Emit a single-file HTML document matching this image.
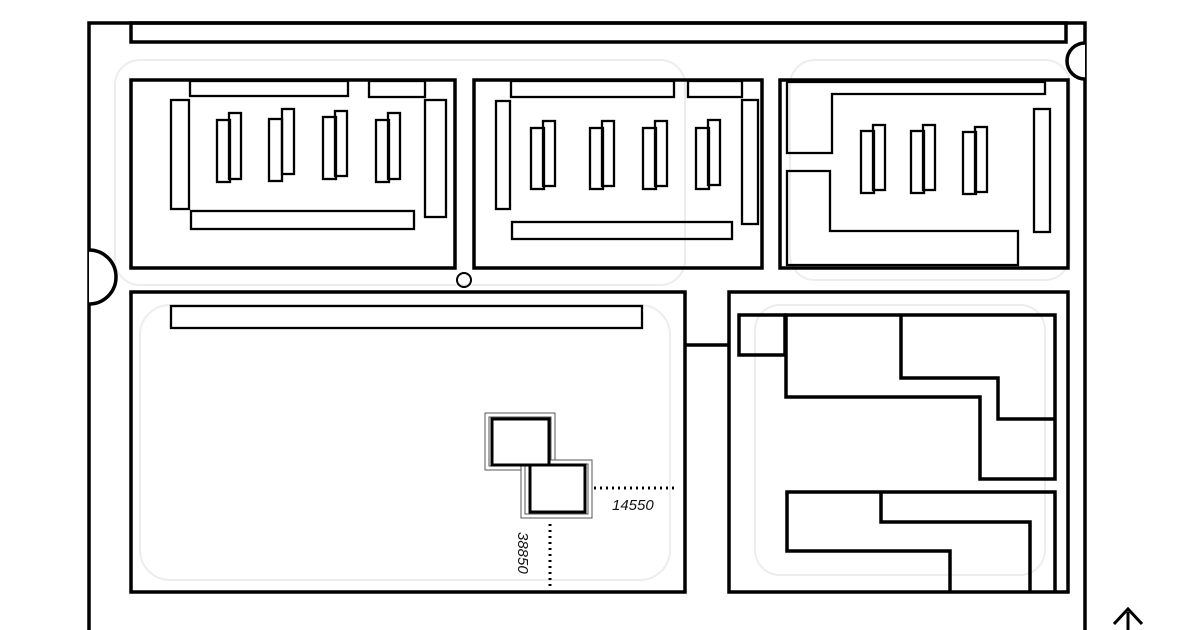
<!DOCTYPE html>
<html><head><style>html,body{margin:0;padding:0;background:#fff;}svg{display:block}</style></head>
<body>
<svg width="1200" height="630" viewBox="0 0 1200 630" xmlns="http://www.w3.org/2000/svg">
<g fill="none" stroke="#ededed" stroke-width="2">
<rect x="115" y="60" width="570" height="225" rx="25"/>
<rect x="140" y="305" width="530" height="275" rx="30"/>
<rect x="755" y="305" width="290" height="270" rx="25"/>
<rect x="790" y="60" width="280" height="220" rx="25"/>
</g>
<g fill="none" stroke="#000" stroke-width="3.5">
<path d="M89 630 V23 H1085 V630"/>
<rect x="131" y="23" width="935" height="19"/>
<path d="M89 250 A27 27 0 0 1 89 304" fill="#fff"/>
<path d="M1085 43 A18 18 0 0 0 1085 79" fill="#fff"/>
<rect x="131" y="80" width="324" height="188"/>
<rect x="474" y="80" width="288" height="188"/>
<rect x="780" y="80" width="288" height="188"/>
<rect x="131" y="292" width="554" height="300"/>
<rect x="729" y="292" width="339" height="300"/>
<line x1="685" y1="345" x2="729" y2="345"/>
</g>
<circle cx="464" cy="280" r="7" fill="none" stroke="#000" stroke-width="2"/>
<g fill="none" stroke="#000" stroke-width="2.3">
<rect x="190" y="81" width="158" height="15"/>
<rect x="369" y="81" width="56" height="16"/>
<rect x="171" y="100" width="18" height="109"/>
<rect x="425" y="100" width="21" height="117"/>
<rect x="191" y="211" width="223" height="18"/>
<rect x="217" y="120" width="13" height="62"/><rect x="229" y="113" width="12" height="66"/>
<rect x="269" y="119" width="13" height="62"/><rect x="282" y="109" width="12" height="65"/>
<rect x="323" y="117" width="13" height="62"/><rect x="335" y="111" width="12" height="65"/>
<rect x="376" y="120" width="13" height="62"/><rect x="388" y="113" width="12" height="66"/>

<rect x="511" y="81" width="163" height="16"/>
<rect x="688" y="81" width="54" height="16"/>
<rect x="496" y="101" width="14" height="108"/>
<rect x="742" y="100" width="16" height="124"/>
<rect x="512" y="222" width="220" height="17"/>
<rect x="531" y="128" width="13" height="61"/><rect x="543" y="121" width="12" height="65"/>
<rect x="590" y="128" width="13" height="61"/><rect x="602" y="121" width="12" height="65"/>
<rect x="643" y="128" width="13" height="61"/><rect x="655" y="121" width="12" height="65"/>
<rect x="696" y="128" width="13" height="61"/><rect x="708" y="120" width="12" height="65"/>

<path d="M787 82 H1045 V94 H832 V153 H787 Z"/>
<path d="M787 171 H830 V231 H1018 V265 H787 Z"/>
<rect x="1034" y="109" width="16" height="123"/>
<rect x="861" y="131" width="13" height="62"/><rect x="873" y="125" width="12" height="65"/>
<rect x="911" y="131" width="13" height="62"/><rect x="923" y="125" width="12" height="65"/>
<rect x="963" y="132" width="13" height="62"/><rect x="975" y="127" width="12" height="65"/>

<rect x="171" y="306" width="471" height="22"/>
</g>
<g fill="none" stroke="#000" stroke-width="3.5">
<rect x="739" y="315" width="46" height="40"/>
<path d="M786 315 H1055 V479 H980 V397 H786 Z"/>
<path d="M901 315 V378 H998 V419 H1055"/>
<path d="M950 592 V551 H787 V492 H1055 V592"/>
<path d="M881 492 V522 H1030 V592"/>
</g>
<g fill="#fff" stroke="#555" stroke-width="1">
<rect x="485" y="413" width="70" height="57"/>
<rect x="489" y="417" width="62" height="49"/>
<rect x="521" y="460" width="71" height="58"/>
<rect x="525" y="464" width="63" height="50"/>
</g>
<rect x="492" y="419" width="57" height="46" fill="#fff" stroke="#000" stroke-width="3"/>
<rect x="530" y="465" width="55" height="47" fill="#fff" stroke="#000" stroke-width="3"/>
<line x1="594" y1="488" x2="677" y2="488" stroke="#000" stroke-width="3" stroke-dasharray="2 4"/>
<line x1="550" y1="524" x2="550" y2="590" stroke="#000" stroke-width="3" stroke-dasharray="2 4"/>
<text x="612" y="510" font-family="Liberation Sans, sans-serif" font-style="italic" font-size="15" fill="#111">14550</text>
<text x="0" y="0" transform="translate(518,532) rotate(90)" font-family="Liberation Sans, sans-serif" font-style="italic" font-size="15" fill="#111">38850</text>
<g stroke="#000" stroke-width="3" fill="none">
<line x1="1128" y1="612" x2="1128" y2="630"/>
<path d="M1114 624 L1128 609 L1142 624"/>
</g>
</svg>
</body></html>
